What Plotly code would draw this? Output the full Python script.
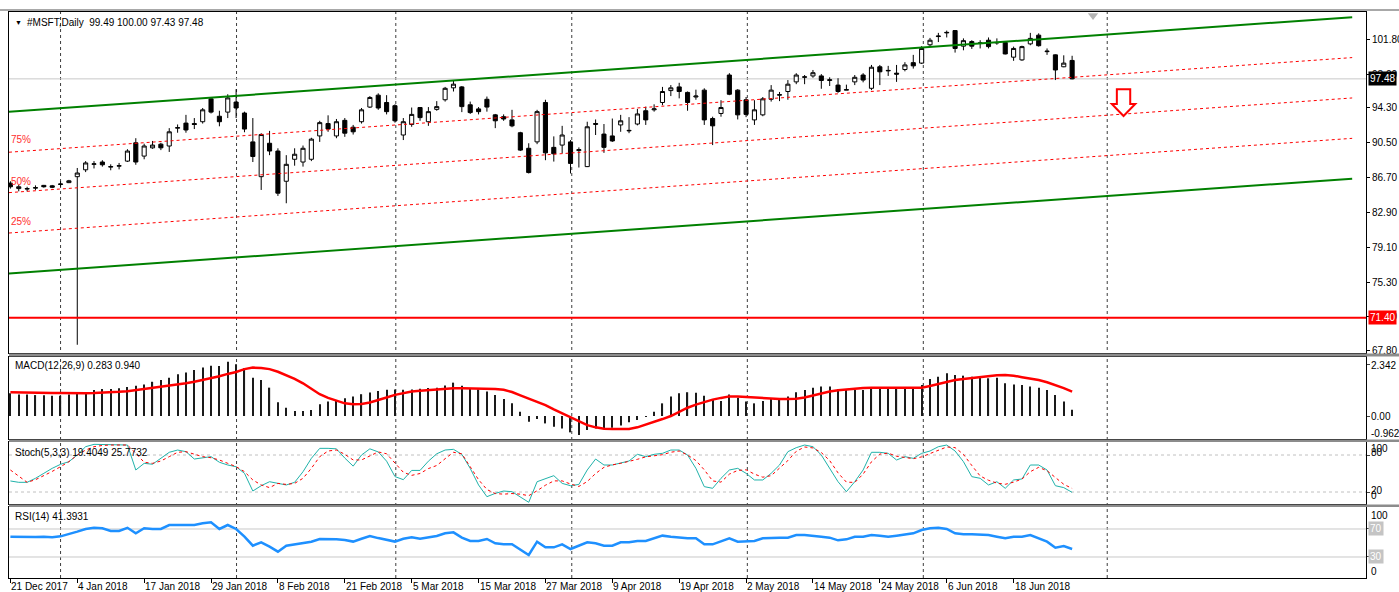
import plotly.graph_objects as go

# ---------------- data ----------------
TICK_LABELS = ["21 Dec 2017", "4 Jan 2018", "17 Jan 2018", "29 Jan 2018", "8 Feb 2018",
               "21 Feb 2018", "5 Mar 2018", "15 Mar 2018", "27 Mar 2018", "9 Apr 2018",
               "19 Apr 2018", "2 May 2018", "14 May 2018", "24 May 2018", "6 Jun 2018",
               "18 Jun 2018"]
TICK_BARS = [0, 8, 16, 24, 32, 40, 48, 56, 64, 72, 80, 88, 96, 104, 112, 120]

OPEN = [86.10, 85.50, 85.45, 85.55, 85.85, 85.80, 85.95, 86.15, 86.80, 87.55,
        88.15, 88.40, 87.85, 87.95, 88.50, 90.50, 89.05, 89.95, 90.35, 90.15,
        92.10, 92.65, 92.60, 92.80, 95.30, 93.40, 93.85, 94.95, 93.75, 90.60,
        86.80, 90.45, 89.60, 86.30, 88.70, 88.40, 88.70, 91.25, 92.60, 91.25,
        92.95, 92.20, 92.80, 94.40, 95.70, 94.90, 94.55, 91.35, 92.50, 94.35,
        92.80, 94.15, 95.20, 96.50, 96.60, 94.65, 94.20, 95.25, 93.55, 93.35,
        93.00, 91.60, 89.90, 90.60, 94.90, 90.00, 90.25, 90.60, 89.65, 87.90,
        92.50, 91.45, 91.25, 92.45, 91.80, 92.55, 94.00, 94.10, 94.90, 96.20,
        96.60, 96.00, 95.50, 96.25, 93.15, 93.70, 97.90, 96.25, 95.20, 93.00,
        93.55, 95.25, 95.70, 96.10, 97.15, 97.65, 97.80, 97.80, 97.30, 96.80,
        96.25, 97.15, 97.90, 96.45, 98.80, 98.35, 98.10, 98.50, 99.25, 99.20,
        101.20, 102.10, 102.50, 102.75, 101.05, 101.55, 101.35, 101.70, 101.40, 101.45,
        99.85, 99.55, 101.30, 102.25, 100.45, 100.10, 98.80, 99.49]
HIGH = [86.30, 85.90, 85.70, 85.85, 85.90, 85.90, 86.30, 86.45, 87.75, 88.50,
        88.50, 88.60, 88.15, 88.30, 89.80, 91.00, 90.40, 90.70, 90.50, 92.10,
        92.50, 93.55, 93.20, 94.30, 95.50, 94.00, 95.80, 96.35, 93.90, 93.20,
        91.55, 91.80, 89.90, 89.15, 89.90, 90.20, 91.05, 92.90, 93.50, 93.10,
        93.20, 92.45, 94.30, 95.60, 95.90, 95.70, 94.70, 93.20, 94.35, 94.40,
        94.40, 95.05, 96.60, 97.25, 96.70, 95.00, 94.40, 95.55, 93.65, 93.60,
        94.10, 91.70, 90.45, 94.10, 95.20, 91.20, 92.35, 90.80, 90.00, 92.80,
        93.05, 92.55, 93.15, 93.55, 93.30, 94.20, 94.45, 94.70, 96.60, 96.80,
        97.05, 96.10, 96.30, 96.45, 93.35, 95.15, 98.10, 96.35, 95.50, 95.15,
        95.50, 96.80, 96.05, 97.35, 98.10, 97.90, 98.45, 98.00, 97.65, 97.55,
        96.85, 97.90, 98.10, 99.00, 99.00, 98.90, 99.00, 99.30, 100.10, 101.05,
        101.95, 102.50, 102.75, 102.80, 101.90, 101.70, 101.70, 102.00, 101.90, 101.55,
        101.00, 101.10, 102.50, 102.45, 100.80, 100.15, 100.05, 100.00]
LOW = [85.50, 85.20, 85.20, 85.35, 85.60, 85.55, 85.70, 86.10, 68.45, 87.30,
       87.70, 87.90, 87.50, 87.60, 88.40, 88.10, 88.70, 89.85, 89.70, 89.50,
       91.60, 91.60, 92.00, 92.60, 93.70, 92.30, 93.20, 93.20, 91.65, 88.40,
       85.35, 89.15, 84.70, 83.90, 88.00, 87.90, 88.50, 90.60, 91.70, 91.00,
       91.15, 91.40, 92.60, 94.30, 94.10, 93.60, 92.70, 90.80, 92.25, 92.90,
       92.35, 94.00, 95.00, 96.10, 93.85, 93.65, 93.60, 93.90, 92.10, 92.90,
       92.20, 89.60, 87.15, 90.35, 88.60, 88.45, 89.35, 87.15, 87.80, 87.85,
       91.35, 89.40, 90.60, 91.70, 91.55, 92.40, 92.45, 93.90, 94.60, 95.60,
       95.35, 94.00, 95.20, 92.45, 90.25, 93.35, 95.70, 93.05, 93.30, 92.45,
       93.40, 95.00, 95.05, 95.20, 96.90, 96.90, 97.60, 96.40, 96.70, 95.95,
       96.25, 96.80, 97.10, 96.25, 96.80, 97.80, 97.15, 98.30, 98.60, 99.10,
       100.95, 101.50, 102.00, 100.35, 100.60, 100.75, 100.80, 100.80, 101.20, 100.15,
       99.45, 99.45, 101.15, 101.00, 100.10, 97.35, 98.75, 97.43]
CLOSE = [85.70, 85.70, 85.50, 85.60, 85.70, 85.65, 86.00, 86.35, 87.20, 88.30,
         88.20, 88.10, 87.90, 88.00, 89.60, 88.40, 90.15, 90.25, 89.95, 91.70,
         92.15, 91.90, 92.50, 94.10, 93.85, 92.80, 95.40, 94.30, 92.00, 89.00,
         91.40, 89.60, 85.00, 88.15, 89.25, 89.90, 90.90, 92.70, 92.00, 92.80,
         91.55, 91.70, 94.10, 95.45, 94.30, 93.90, 92.90, 92.80, 93.60, 93.25,
         93.90, 94.45, 96.45, 96.90, 94.45, 93.80, 93.90, 94.40, 92.90, 93.10,
         92.35, 89.70, 87.25, 93.90, 89.40, 89.30, 91.35, 88.25, 89.75, 92.25,
         92.60, 90.00, 90.70, 92.90, 91.85, 93.65, 93.00, 94.20, 96.10, 96.50,
         96.10, 94.90, 95.60, 93.00, 92.35, 94.35, 95.80, 93.55, 93.60, 94.10,
         95.30, 96.25, 95.75, 96.90, 97.90, 97.70, 98.15, 97.30, 97.38, 96.10,
         96.30, 97.65, 97.35, 98.75, 98.25, 98.40, 98.00, 99.00, 98.90, 100.80,
         101.70, 102.15, 102.55, 100.80, 101.65, 101.05, 101.40, 101.00, 101.45, 100.20,
         100.80, 101.00, 101.90, 101.10, 100.50, 98.45, 99.20, 97.48]

MACD_HIST = [1.04, 0.99, 0.99, 0.96, 0.95, 0.93, 0.93, 0.99, 1.04, 1.09,
             1.19, 1.24, 1.24, 1.27, 1.33, 1.39, 1.45, 1.57, 1.65, 1.76,
             1.91, 2.00, 2.11, 2.22, 2.31, 2.29, 2.49, 2.37, 2.19, 1.76,
             1.65, 1.30, 0.63, 0.38, 0.23, 0.23, 0.28, 0.54, 0.66, 0.73,
             0.81, 0.90, 1.00, 1.08, 1.15, 1.20, 1.22, 1.20, 1.22, 1.25,
             1.28, 1.30, 1.40, 1.53, 1.39, 1.27, 1.22, 1.12, 0.96, 0.78,
             0.58, 0.20, -0.26, -0.14, -0.34, -0.49, -0.57, -0.75, -0.87, -0.64,
             -0.57, -0.60, -0.54, -0.44, -0.29, -0.18, -0.03, 0.20, 0.58, 0.89,
             1.04, 1.09, 1.07, 0.93, 0.78, 0.69, 0.99, 0.84, 0.66, 0.58,
             0.69, 0.78, 0.81, 0.89, 1.09, 1.19, 1.30, 1.35, 1.35, 1.24,
             1.19, 1.19, 1.19, 1.30, 1.27, 1.27, 1.27, 1.30, 1.30, 1.42,
             1.70, 1.80, 1.96, 1.88, 1.85, 1.80, 1.76, 1.73, 1.76, 1.50,
             1.45, 1.42, 1.35, 1.30, 1.19, 0.96, 0.66, 0.283]
MACD_SIGNAL = [1.09, 1.09, 1.09, 1.08, 1.08, 1.06, 1.05, 1.04, 1.04, 1.04,
               1.05, 1.06, 1.09, 1.11, 1.14, 1.19, 1.23, 1.27, 1.32, 1.38,
               1.44, 1.50, 1.57, 1.65, 1.73, 1.82, 1.93, 2.02, 2.15, 2.22,
               2.20, 2.15, 2.03, 1.88, 1.70, 1.50, 1.25, 1.00, 0.83, 0.69,
               0.58, 0.54, 0.55, 0.62, 0.72, 0.85, 0.97, 1.06, 1.12, 1.16,
               1.19, 1.22, 1.25, 1.27, 1.27, 1.27, 1.26, 1.25, 1.24, 1.20,
               1.10, 0.95, 0.80, 0.65, 0.50, 0.30, 0.12, -0.05, -0.25, -0.42,
               -0.52, -0.58, -0.60, -0.60, -0.60, -0.52, -0.40, -0.28, -0.14, 0.00,
               0.20, 0.38, 0.52, 0.65, 0.75, 0.83, 0.90, 0.90, 0.87, 0.84,
               0.81, 0.79, 0.78, 0.78, 0.79, 0.85, 0.95, 1.05, 1.12, 1.18,
               1.22, 1.26, 1.28, 1.30, 1.30, 1.29, 1.27, 1.27, 1.28, 1.30,
               1.38, 1.48, 1.57, 1.65, 1.70, 1.75, 1.80, 1.84, 1.87, 1.88,
               1.85, 1.78, 1.72, 1.65, 1.55, 1.42, 1.28, 1.12]

STOCH_MAIN = [37.9, 35.7, 35.7, 42.2, 50.3, 58.4, 64.9, 69.2, 80.0, 93.5,
              97.3, 97.3, 97.3, 97.3, 96.2, 55.7, 66.5, 65.0, 74.6, 84.4,
              88.1, 85.4, 73.5, 75.0, 77.3, 68.2, 63.8, 61.0, 50.3, 21.6,
              30.2, 36.7, 34.0, 31.4, 35.7, 52.9, 74.6, 90.8, 90.8, 90.0,
              75.0, 62.0, 80.0, 90.0, 85.0, 70.0, 45.0, 40.0, 55.0, 55.0,
              70.0, 82.0, 88.1, 89.2, 81.1, 58.4, 31.4, 12.4, 17.8, 21.6,
              20.5, 12.4, 3.3, 36.7, 42.2, 46.5, 34.0, 30.2, 32.3, 55.7,
              73.5, 63.8, 63.8, 66.5, 70.3, 81.1, 77.3, 81.1, 82.7, 88.1,
              88.1, 80.0, 58.4, 28.7, 26.0, 42.2, 55.7, 58.4, 50.3, 39.5,
              39.5, 50.3, 63.8, 85.4, 91.9, 96.2, 93.5, 80.0, 58.4, 36.7,
              20.5, 36.7, 55.7, 84.4, 84.4, 82.7, 71.9, 77.3, 74.6, 82.7,
              86.5, 93.5, 96.2, 86.5, 69.2, 44.9, 42.2, 31.4, 36.7, 26.0,
              39.5, 41.1, 63.8, 63.8, 55.7, 30.2, 27.1, 19.4]
STOCH_SIGNAL = [55.7, 45.0, 35.7, 39.9, 46.0, 53.4, 61.0, 69.2, 80.0, 88.1,
                93.5, 95.5, 96.2, 96.2, 96.2, 82.7, 68.2, 66.5, 70.3, 77.3,
                84.4, 85.4, 81.1, 77.3, 75.6, 71.9, 66.5, 61.1, 53.0, 39.5,
                31.4, 27.1, 34.0, 32.3, 34.0, 42.2, 58.4, 77.3, 86.5, 88.1,
                81.1, 72.0, 72.0, 78.0, 85.0, 82.0, 67.0, 52.0, 47.0, 50.0,
                58.0, 63.0, 74.0, 84.4, 82.0, 62.0, 40.0, 24.0, 17.5, 16.5,
                17.5, 16.5, 14.0, 22.0, 31.0, 38.0, 38.0, 33.0, 29.0, 37.0,
                50.0, 60.0, 64.0, 66.5, 69.5, 73.0, 77.0, 78.5, 80.5, 84.5,
                86.5, 80.0, 71.0, 56.0, 38.0, 36.0, 49.0, 55.0, 56.0, 49.0,
                44.0, 46.5, 58.0, 71.0, 86.0, 93.0, 91.5, 84.0, 71.0, 51.0,
                36.0, 35.5, 49.0, 69.0, 81.5, 83.0, 78.0, 76.0, 74.0, 77.0,
                82.0, 87.5, 93.0, 92.0, 81.0, 63.0, 46.0, 39.0, 34.5, 32.5,
                36.0, 41.0, 53.0, 60.0, 54.5, 43.5, 32.5, 25.77]
RSI = [59.0, 58.5, 58.5, 58.5, 59.0, 58.2, 59.5, 62.4, 66.2, 70.0,
       71.7, 71.0, 67.1, 67.1, 71.7, 63.8, 71.0, 70.0, 70.0, 75.7,
       75.7, 75.7, 75.7, 78.1, 79.5, 70.0, 75.7, 70.0, 59.0, 46.2,
       51.0, 44.8, 37.6, 46.2, 48.1, 49.5, 51.9, 55.7, 55.7, 55.3,
       54.3, 52.0, 56.0, 60.0, 57.0, 55.0, 52.0, 56.0, 58.0, 56.0,
       58.0, 60.0, 63.8, 65.2, 57.6, 52.9, 52.9, 55.7, 49.5, 48.1,
       48.1, 40.0, 32.9, 51.9, 43.8, 43.8, 48.1, 41.4, 46.2, 51.0,
       49.5, 46.2, 46.2, 51.0, 51.0, 52.9, 52.9, 56.7, 60.5, 59.0,
       57.6, 56.7, 56.7, 48.1, 48.1, 51.9, 56.7, 51.9, 51.9, 52.9,
       56.7, 57.6, 57.6, 57.6, 61.4, 61.4, 60.5, 59.0, 57.6, 53.8,
       55.2, 59.0, 59.0, 61.4, 60.5, 59.0, 60.5, 62.4, 63.8, 68.6,
       71.0, 71.7, 70.0, 63.8, 62.4, 62.4, 61.4, 61.4, 59.0, 56.7,
       59.0, 59.0, 61.4, 56.7, 51.9, 43.3, 45.5, 41.39]

PRICE_TICKS = [101.80, 98.00, 94.30, 90.50, 86.70, 82.90, 79.10, 75.30, 71.50, 67.80]
LAST_PRICE = 97.48
LEVEL_PRICE = 71.40
CHANNEL_BARS = [-0.17, 160.5]
CHANNEL_UPPER = [93.88, 104.21]
CHANNEL_LOWER = [76.24, 86.58]
FIB_LEVELS = [0.25, 0.50, 0.75]
FIB_NAMES = ["25%", "50%", "75%"]
MONTH_GRID_BARS = [6.0, 27.05, 46.1, 67.15, 88.15, 109.2, 131.2]
ARROW_BAR, ARROW_TOP, ARROW_NECK, ARROW_TIP = 133.15, 96.34, 94.74, 93.43
SHIFT_MARK_BAR, SHIFT_MARK_PRICE = 129.5, 104.4

N = len(CLOSE)
for arr in (OPEN, HIGH, LOW, MACD_HIST, MACD_SIGNAL, STOCH_MAIN, STOCH_SIGNAL, RSI):
    assert len(arr) == N, len(arr)
BARS = list(range(N))

# ---------------- geometry ----------------
W, H = 1399, 592
ML, MR, MT, MB = 9, 33, 12, 14
PW, PH = W - ML - MR, H - MT - MB
BAR0_PX, BAR_PX = 10.4, 8.36


def py(ypx):
    return (H - MB - ypx) / PH


def pxp(xpx):
    return (xpx - ML) / PW


XRANGE = [(ML - BAR0_PX) / BAR_PX, (W - MR - BAR0_PX) / BAR_PX]
FONT = "Liberation Sans, Arial, sans-serif"

fig = go.Figure()

# channel + fib lines (main panel)
fig.add_trace(go.Scatter(x=CHANNEL_BARS, y=CHANNEL_UPPER, mode="lines",
                         line=dict(color="#008000", width=2), hoverinfo="skip"))
fig.add_trace(go.Scatter(x=CHANNEL_BARS, y=CHANNEL_LOWER, mode="lines",
                         line=dict(color="#008000", width=2), hoverinfo="skip"))
for f in FIB_LEVELS:
    fy = [lo + f * (up - lo) for lo, up in zip(CHANNEL_LOWER, CHANNEL_UPPER)]
    fig.add_trace(go.Scatter(x=CHANNEL_BARS, y=fy, mode="lines",
                             line=dict(color="#ff0000", width=1, dash="3px,3px"),
                             hoverinfo="skip"))

fig.add_trace(go.Candlestick(
    x=BARS, open=OPEN, high=HIGH, low=LOW, close=CLOSE,
    increasing=dict(line=dict(color="black", width=1), fillcolor="white"),
    decreasing=dict(line=dict(color="black", width=1), fillcolor="black"),
    whiskerwidth=0, hoverinfo="skip", xaxis="x", yaxis="y"))

fig.add_trace(go.Scatter(x=[SHIFT_MARK_BAR], y=[SHIFT_MARK_PRICE], mode="markers",
                         marker=dict(symbol="triangle-down", size=9, color="#b4b4b4"),
                         cliponaxis=False, hoverinfo="skip"))

# MACD
fig.add_trace(go.Bar(x=BARS, y=MACD_HIST, width=0.14, marker=dict(color="#1a1a1a", line=dict(width=0)),
                     xaxis="x2", yaxis="y2", hoverinfo="skip"))
fig.add_trace(go.Scatter(x=BARS, y=MACD_SIGNAL, mode="lines", line=dict(color="#ff0000", width=2.5),
                         xaxis="x2", yaxis="y2", hoverinfo="skip"))
# Stochastic
fig.add_trace(go.Scatter(x=BARS, y=STOCH_MAIN, mode="lines", line=dict(color="#20b2aa", width=1),
                         xaxis="x3", yaxis="y3", hoverinfo="skip"))
fig.add_trace(go.Scatter(x=BARS, y=STOCH_SIGNAL, mode="lines",
                         line=dict(color="#ff0000", width=1, dash="3px,3px"),
                         xaxis="x3", yaxis="y3", hoverinfo="skip"))
# RSI
fig.add_trace(go.Scatter(x=BARS, y=RSI, mode="lines", line=dict(color="#1e90ff", width=2.5),
                         xaxis="x4", yaxis="y4", hoverinfo="skip"))

common_x = dict(range=XRANGE, showgrid=False, zeroline=False, showline=True, mirror=True,
                linecolor="black", linewidth=1, showticklabels=False, fixedrange=True,
                automargin=False)
common_y = dict(showgrid=False, zeroline=False, showline=True, mirror=True,
                linecolor="black", linewidth=1, fixedrange=True, side="right", automargin=False)

DOM_MAIN = [py(353), 1.0]
DOM_MACD = [py(439), py(357)]
DOM_STOCH = [py(504), py(442)]
DOM_RSI = [0.0, py(507)]

fig.update_layout(
    width=W, height=H, margin=dict(l=ML, r=MR, t=MT, b=MB, autoexpand=False),
    paper_bgcolor="white", plot_bgcolor="rgba(0,0,0,0)",
    showlegend=False, hovermode=False,
    font=dict(family=FONT, size=10, color="black"),
    xaxis={**common_x, "anchor": "y", "domain": [0, 1], "rangeslider": dict(visible=False), "ticks": ""},
    xaxis2={**common_x, "anchor": "y2", "domain": [0, 1], "matches": "x", "ticks": ""},
    xaxis3={**common_x, "anchor": "y3", "domain": [0, 1], "matches": "x", "ticks": ""},
    xaxis4={**common_x, "anchor": "y4", "domain": [0, 1], "matches": "x", "ticks": "outside",
            "tickvals": TICK_BARS, "ticklen": 4, "tickcolor": "black"},
    yaxis={**common_y, "anchor": "x", "domain": DOM_MAIN, "range": [67.55, 104.78],
           "tickvals": PRICE_TICKS, "ticktext": [f"{v:.2f}" for v in PRICE_TICKS],
           "ticks": "outside", "ticklen": 3, "tickcolor": "black",
           "tickfont": dict(family=FONT, size=10, color="black")},
    yaxis2={**common_y, "anchor": "x2", "domain": DOM_MACD, "range": [-1.055, 2.706],
            "showticklabels": False, "ticks": "outside", "ticklen": 3, "tickvals": [2.342, 0.0]},
    yaxis3={**common_y, "anchor": "x3", "domain": DOM_STOCH, "range": [0.54, 101.1],
            "showticklabels": False, "ticks": "outside", "ticklen": 3, "tickvals": [80, 20]},
    yaxis4={**common_y, "anchor": "x4", "domain": DOM_RSI, "range": [0, 101.4],
            "showticklabels": False, "ticks": "outside", "ticklen": 3, "tickvals": [70, 30]},
)

shapes = []
# monthly vertical grid (dashed)
for gx in MONTH_GRID_BARS:
    shapes.append(dict(type="line", xref="x", yref="paper", x0=gx, x1=gx, y0=0, y1=1,
                       line=dict(color="#3c3c3c", width=1, dash="3px,3px"), layer="below"))
# bid line and horizontal level
shapes.append(dict(type="line", xref="paper", yref="y", x0=0, x1=1, y0=LAST_PRICE, y1=LAST_PRICE,
                   line=dict(color="#c8c8c8", width=1), layer="below"))
shapes.append(dict(type="line", xref="paper", yref="y", x0=0, x1=1, y0=LEVEL_PRICE, y1=LEVEL_PRICE,
                   line=dict(color="#ff0000", width=2)))
# indicator levels
for lv in (80, 20):
    shapes.append(dict(type="line", xref="paper", yref="y3", x0=0, x1=1, y0=lv, y1=lv,
                       line=dict(color="#c0c0c0", width=1, dash="3px,3px"), layer="below"))
for lv in (70, 30):
    shapes.append(dict(type="line", xref="paper", yref="y4", x0=0, x1=1, y0=lv, y1=lv,
                       line=dict(color="#c8c8c8", width=1), layer="below"))
# sell arrow
ax = ARROW_BAR
arrow_path = (f"M {ax-0.8},{ARROW_TOP} L {ax+0.8},{ARROW_TOP} L {ax+0.8},{ARROW_NECK} "
              f"L {ax+1.4},{ARROW_NECK} L {ax},{ARROW_TIP} L {ax-1.4},{ARROW_NECK} "
              f"L {ax-0.8},{ARROW_NECK} Z")
shapes.append(dict(type="path", xref="x", yref="y", path=arrow_path,
                   line=dict(color="#ff0000", width=2), fillcolor="white"))
# panel separators
for top, bot in ((353.5, 356.5), (439.5, 442), (504.5, 507)):
    shapes.append(dict(type="rect", xref="paper", yref="paper", x0=pxp(ML), x1=pxp(W),
                       y0=py(bot), y1=py(top), fillcolor="#8c8c8c", line=dict(width=0)))
shapes.append(dict(type="rect", xref="paper", yref="paper", x0=pxp(0), x1=pxp(W),
                   y0=py(11), y1=py(9), fillcolor="#a8a8a8", line=dict(width=0)))
fig.update_layout(shapes=shapes)

ann = []


def txt(text, xpx, ypx, color="black", size=10, xanchor="left"):
    ann.append(dict(text=text, xref="paper", yref="paper", x=pxp(xpx), y=py(ypx),
                    xanchor=xanchor, yanchor="middle", showarrow=False,
                    font=dict(family=FONT, size=size, color=color)))


txt("▼", 13, 22.5, size=7)
txt("#MSFT,Daily  99.49 100.00 97.43 97.48", 25, 22.5)
for name, ypx in zip(FIB_NAMES, (221.5, 181, 139.5)):
    txt(name, 8.5, ypx, color="#ff3030")
txt("MACD(12,26,9) 0.283 0.940", 13, 365)
txt("Stoch(5,3,3) 19.4049 25.7732", 13, 452)
txt("RSI(14) 41.3931", 13, 516.5)

# right-side indicator scale labels
for t, ypx in (("2.342", 365), ("0.00", 416), ("-0.962", 433),
               ("100", 448.5), ("80", 452.5), ("20", 490.5), ("0", 495),
               ("100", 515), ("0", 571)):
    txt(t, 1369, ypx)

# boxed labels
for t, yref, yv, bg in (("97.48", "y", LAST_PRICE, "#000000"), ("71.40", "y", LEVEL_PRICE, "#ff0000"),
                        ("70", "y4", 70, "#c4c4c4"), ("30", "y4", 30, "#c4c4c4")):
    ann.append(dict(text=t, xref="paper", yref=yref, x=1, y=yv, xanchor="left", yanchor="middle",
                    xshift=2, showarrow=False, bgcolor=bg, borderpad=1,
                    font=dict(family=FONT, size=10, color="white")))

# date labels (left-aligned at their bar)
for b, t in zip(TICK_BARS, TICK_LABELS):
    ann.append(dict(text=t, xref="x4", yref="paper", x=b, y=py(579), xanchor="left", yanchor="top",
                    xshift=-1, showarrow=False, font=dict(family=FONT, size=10, color="black")))

fig.update_layout(annotations=ann)
fig.write_html("out.html")
